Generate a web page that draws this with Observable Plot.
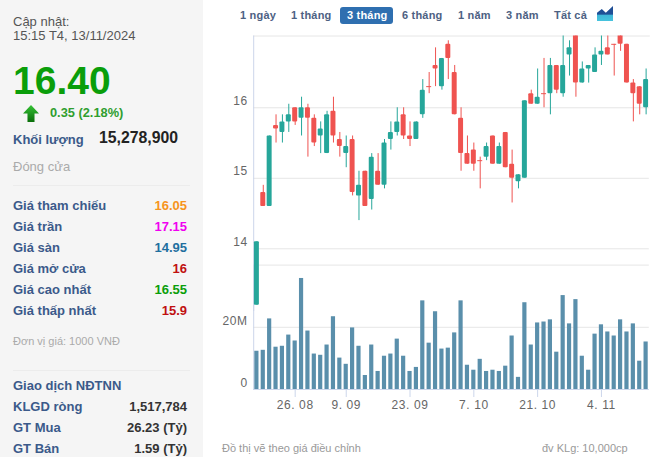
<!DOCTYPE html>
<html lang="vi">
<head>
<meta charset="utf-8">
<title>Biểu đồ giá</title>
<script src="https://cdn.jsdelivr.net/npm/d3@7"></script>
<script src="https://cdn.jsdelivr.net/npm/@observablehq/plot@0.6"></script>
<style>
html,body{margin:0;padding:0;background:#fff;}
body{width:665px;height:457px;overflow:hidden;position:relative;font-family:"Liberation Sans",Arial,sans-serif;}
#panel{position:absolute;left:0;top:0;width:203px;height:457px;background:#f5f5f5;}
.t{position:absolute;white-space:nowrap;line-height:16px;height:16px;}
.lab{left:13px;font-size:13px;font-weight:bold;color:#3b5a8a;}
.val{right:478px;font-size:13px;font-weight:bold;color:#333;text-align:right;}
.tab{top:7px;font-size:11px;font-weight:bold;color:#4d6183;letter-spacing:.2px;}
.sep{position:absolute;left:13px;width:177px;height:1px;background:#ececec;}
.foot{top:440px;font-size:11px;color:#999;}
#chart svg{position:absolute;left:0;top:0;background:transparent;pointer-events:none;}
</style>
</head>
<body>
<div id="panel"></div>
<div class="t" style="left:13px;top:14px;font-size:13px;color:#555">Cập nhật:</div>
<div class="t" style="left:13px;top:28px;font-size:13px;color:#555">15:15 T4, 13/11/2024</div>
<div class="t" style="left:13px;top:61px;height:40px;line-height:40px;font-size:39px;font-weight:bold;color:#0a9e0a">16.40</div>
<div style="position:absolute;left:23px;top:105px;width:16px;height:17px;background:linear-gradient(#35c235,#0a6e0a);clip-path:polygon(50% 0,100% 50%,72% 50%,72% 100%,28% 100%,28% 50%,0 50%)"></div>
<div class="t" style="left:50px;top:105px;font-size:12.8px;font-weight:bold;color:#2f9e2f">0.35 (2.18%)</div>
<div class="t lab" style="top:132px">Khối lượng</div>
<div class="t" style="left:99px;top:130px;font-size:15.8px;font-weight:bold;color:#222">15,278,900</div>
<div class="t" style="left:13px;top:159px;font-size:13px;color:#aaa">Đóng cửa</div>
<div class="sep" style="top:185px"></div>
<div class="t lab" style="top:198px">Giá tham chiếu</div><div class="t val" style="top:198px;color:#f7941d">16.05</div>
<div class="t lab" style="top:219px">Giá trần</div><div class="t val" style="top:219px;color:#f000f0">17.15</div>
<div class="t lab" style="top:240px">Giá sàn</div><div class="t val" style="top:240px;color:#1f6f9f">14.95</div>
<div class="t lab" style="top:261px">Giá mở cửa</div><div class="t val" style="top:261px;color:#c01010">16</div>
<div class="t lab" style="top:282px">Giá cao nhất</div><div class="t val" style="top:282px;color:#0a9e0a">16.55</div>
<div class="t lab" style="top:303px">Giá thấp nhất</div><div class="t val" style="top:303px;color:#c01010">15.9</div>
<div class="t" style="left:13px;top:333px;font-size:11px;color:#aaa">Đơn vị giá: 1000 VNĐ</div>
<div class="sep" style="top:370px"></div>
<div class="t lab" style="top:378px">Giao dịch NĐTNN</div>
<div class="t lab" style="top:399px">KLGD ròng</div><div class="t val" style="top:399px">1,517,784</div>
<div class="t lab" style="top:420px">GT Mua</div><div class="t val" style="top:420px">26.23 (Tỷ)</div>
<div class="t lab" style="top:441px">GT Bán</div><div class="t val" style="top:441px">1.59 (Tỷ)</div>

<div class="t tab" style="left:240px">1 ngày</div>
<div class="t tab" style="left:291px">1 tháng</div>
<div style="position:absolute;left:340px;top:7px;width:53px;height:17px;border-radius:3px;background:#2f6fb0"></div>
<div class="t tab" style="left:347px;color:#fff">3 tháng</div>
<div class="t tab" style="left:402px">6 tháng</div>
<div class="t tab" style="left:458px">1 năm</div>
<div class="t tab" style="left:506px">3 năm</div>
<div class="t tab" style="left:554px">Tất cả</div>
<div style="position:absolute;left:597px;top:6px;width:16px;height:15px;background:linear-gradient(#1f4f96 0,#1f4f96 55%,#3fb6d8 60%,#46c3dd 100%);clip-path:polygon(0 45%,30% 20%,55% 45%,100% 0,100% 100%,0 100%)"></div>

<div id="chart"></div>
<div class="t foot" style="left:222px">Đồ thị vẽ theo giá điều chỉnh</div>
<div class="t foot" style="left:542px">đv KLg: 10,000cp</div>

<script>
const dates = ["16. 08","19. 08","20. 08","21. 08","22. 08","23. 08","26. 08","27. 08","28. 08","29. 08","30. 08",
"4. 09","5. 09","6. 09","9. 09","10. 09","11. 09","12. 09","13. 09","16. 09","17. 09","18. 09","19. 09","20. 09",
"23. 09","24. 09","25. 09","26. 09","27. 09","30. 09","1. 10","2. 10","3. 10","4. 10","7. 10","8. 10","9. 10","10. 10","11. 10",
"14. 10","15. 10","16. 10","17. 10","18. 10","21. 10","22. 10","23. 10","24. 10","25. 10","28. 10","29. 10","30. 10","31. 10","1. 11",
"4. 11","5. 11","6. 11","7. 11","8. 11","11. 11","12. 11","13. 11"];
const tickDates = ["26. 08","9. 09","23. 09","7. 10","21. 10","4. 11"];
const open = [13.20,14.80,14.60,15.75,15.65,15.80,16.00,15.85,16.00,15.85,15.60,15.35,15.95,15.55,15.35,15.55,14.75,15.10,14.70,15.10,14.90,
15.55,15.65,15.90,15.60,15.55,15.90,16.30,16.60,16.30,16.90,16.50,15.85,15.35,15.40,15.25,15.30,15.60,15.20,15.65,15.20,14.95,15.00,16.20,16.05,16.20,
16.20,16.60,16.20,16.75,17.05,16.35,16.55,16.50,16.75,16.85,16.90,17.05,16.90,16.35,16.30,16.00];
const high = [14.10,14.90,15.60,15.90,15.90,16.05,16.00,16.15,16.05,15.90,15.80,15.95,16.15,15.65,15.60,15.60,15.10,15.10,15.35,15.35,15.55,
15.80,16.00,16.00,15.80,15.80,16.40,16.50,16.85,16.70,16.95,16.60,16.00,15.60,15.50,15.30,15.50,15.60,15.50,15.65,15.40,15.05,16.10,16.25,16.55,16.70,
16.70,16.60,17.10,16.95,17.10,16.65,16.60,16.85,17.05,17.05,16.90,17.10,16.90,16.40,16.30,16.55];
const low = [13.20,14.60,14.60,15.50,15.50,15.65,15.75,15.60,15.30,15.45,15.35,15.35,15.50,15.30,15.15,14.75,14.40,14.60,14.55,14.90,14.85,
15.40,15.60,15.55,15.45,15.55,15.85,16.20,16.30,16.25,16.40,15.90,15.10,15.20,15.10,14.85,15.25,15.20,15.20,15.15,14.65,14.85,15.00,16.05,16.05,16.00,
15.90,16.20,16.15,16.45,16.15,16.35,16.35,16.50,16.60,16.75,16.45,16.80,16.35,15.80,15.90,15.90];
const close = [14.10,14.60,15.60,15.70,15.80,15.90,15.80,16.00,15.85,15.50,15.70,15.90,15.60,15.45,15.45,14.80,14.90,14.60,15.30,14.90,15.50,
15.65,15.80,15.60,15.55,15.80,16.25,16.30,16.55,16.70,16.70,15.90,15.35,15.20,15.20,15.25,15.45,15.20,15.45,15.15,15.00,15.05,16.10,16.05,16.15,16.20,
16.60,16.25,16.60,16.85,16.35,16.55,16.60,16.75,16.80,16.75,16.90,16.90,16.35,16.20,16.05,16.40];
const volume = [12.3,12.6,22.7,13.6,13.9,17.5,15.6,35.7,18.8,11.4,11.0,14.3,23.4,10.1,8.1,19.8,13.9,4.5,14.3,5.8,10.7,11.4,16.2,10.7,5.8,7.1,28.5,14.9,25.0,13.0,
13.3,18.2,28.5,7.8,6.2,9.7,5.8,6.2,5.8,7.5,17.2,3.9,27.9,14.3,21.4,21.7,22.4,12.0,30.2,21.1,28.9,10.7,6.2,17.8,20.8,18.5,17.2,22.4,18.5,21.1,9.1,15.28];

const UP = "#26a69a", DOWN = "#ef5350", VOL = "#5a8fab", GRID = "#e6e6e6", AXIS = "#ccd6eb", TXT = "#666";
const rows = dates.map((d, i) => ({d, o: open[i], h: high[i], l: low[i], c: close[i], v: volume[i]}));
const ups = rows.filter(r => r.c > r.o), downs = rows.filter(r => r.c < r.o), dojis = rows.filter(r => r.c === r.o);
const W = 665, H = 457, ML = 253.2, MR = 16.2;
const xScale = {type: "band", domain: dates, padding: 0, round: false, axis: null};
const font = {fontFamily: '"Liberation Sans",Arial,sans-serif', fontSize: "12px", letterSpacing: "0.6px"};

const candle = (data, color) => [
  Plot.ruleX(data, {x: "d", y1: "l", y2: "h", stroke: color, strokeWidth: 1, clip: "frame"}),
  Plot.barY(data, {x: "d", y1: "o", y2: "c", fill: color, insetLeft: 0.7, insetRight: 0.7, rx: 1, clip: "frame"})
];

const price = Plot.plot({
  width: W, height: H, marginLeft: ML, marginRight: MR, marginTop: 35.5, marginBottom: 147,
  style: font,
  x: xScale,
  y: {domain: [13.125, 17.018], axis: null},
  marks: [
    Plot.ruleY([14, 15, 16], {stroke: GRID}),
    Plot.frame({anchor: "top", stroke: GRID}),
    Plot.frame({anchor: "left", stroke: AXIS}),
    Plot.axisY({ticks: [14, 15, 16], label: null, tickSize: 0, tickPadding: 6, dy: -7, fill: TXT, fontSize: 12, tickFormat: d3.format("d")}),
    ...candle(ups, UP),
    ...candle(downs, DOWN),
    Plot.ruleX(dojis, {x: "d", y1: "l", y2: "h", stroke: DOWN}),
    Plot.tickY(dojis, {x: "d", y: "c", stroke: DOWN, insetLeft: 0.7, insetRight: 0.7})
  ]
});

const vol = Plot.plot({
  width: W, height: H, marginLeft: ML, marginRight: MR, marginTop: 264.6, marginBottom: 68,
  style: font,
  x: xScale,
  y: {domain: [0, 40], axis: null},
  marks: [
    Plot.ruleY([20, 40], {stroke: GRID}),
    Plot.frame({anchor: "left", stroke: AXIS}),
    Plot.axisY({ticks: [0, 20], label: null, tickSize: 0, tickPadding: 6, dy: -6, fill: TXT, fontSize: 12, tickFormat: d => d ? d + "M" : "0"}),
    Plot.barY(rows, {x: "d", y: "v", fill: VOL, insetLeft: 1.1, insetRight: 1.1}),
    Plot.ruleY([0], {stroke: AXIS}),
    Plot.axisX({ticks: tickDates, label: null, tickSize: 8, tickPadding: 3, stroke: AXIS, fill: TXT, fontSize: 12, tickFormat: d => d})
  ]
});

document.getElementById("chart").append(vol, price);
</script>
</body>
</html>
